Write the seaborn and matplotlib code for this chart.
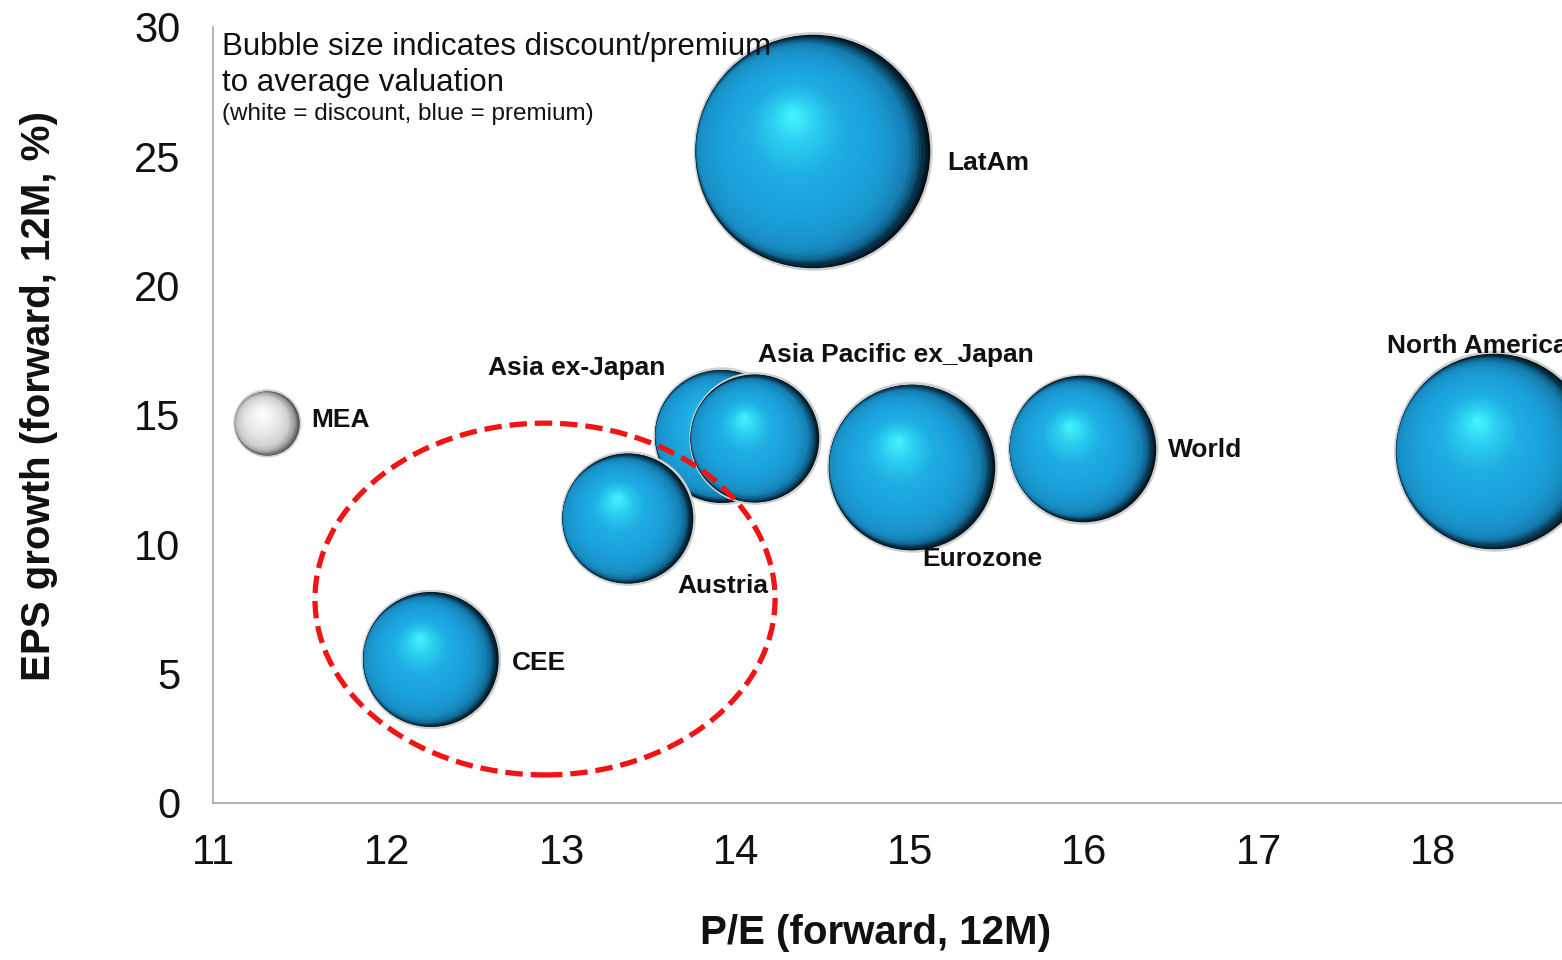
import numpy as np
import pandas as pd
import matplotlib
matplotlib.use("Agg")
import matplotlib.pyplot as plt
from matplotlib.colors import LinearSegmentedColormap
from matplotlib.patches import Ellipse
from matplotlib.transforms import offset_copy
import seaborn as sns

# ---- data -------------------------------------------------------------
regions = ["LatAm", "MEA", "Asia ex-Japan", "Asia Pacific ex_Japan",
           "Eurozone", "World", "North America", "Austria", "CEE"]
pe_forward = [14.44, 11.31, 13.92, 14.11, 15.01, 15.99, 18.35, 13.38, 12.25]
eps_growth = [25.2, 14.7, 14.2, 14.1, 13.0, 13.7, 13.6, 11.0, 5.55]
# discount (<0) / premium (>0) to average valuation, %
valuation_gap = [30.0, -2.3, 9.8, 9.1, 15.2, 11.8, 21.1, 9.4, 10.1]

x_ticks = [11, 12, 13, 14, 15, 16, 17, 18]
y_ticks = [0, 5, 10, 15, 20, 25, 30]

# label offsets from bubble centre (points) and horizontal alignment
label_offsets = {
    "LatAm": (97, -13.4, "left"),
    "MEA": (32, -3.0, "left"),
    "Asia ex-Japan": (-40.7, 43.4, "right"),
    "Asia Pacific ex_Japan": (2.2, 54.6, "left"),
    "Eurozone": (7.6, -71.4, "left"),
    "World": (61.2, -5.9, "left"),
    "North America": (-77, 70.4, "left"),
    "Austria": (36, -53.4, "left"),
    "CEE": (58, -7.7, "left"),
}

# highlighted group (dashed ellipse): centre, width, height in data units
focus_center = (12.905, 7.885)
focus_width, focus_height = 2.64, 13.6

AREA_PER_PCT = 962.0  # marker area (pt^2) per 1% of valuation gap

# ---- styling ----------------------------------------------------------
sns.set_style("white")
plt.rcParams["font.family"] = ["Liberation Sans", "DejaVu Sans"]

df = pd.DataFrame({
    "region": regions,
    "pe": pe_forward,
    "eps": eps_growth,
    "gap": valuation_gap,
})
df["magnitude"] = df["gap"].abs()
df["kind"] = np.where(df["gap"] < 0, "discount", "premium")

fig = plt.figure(figsize=(15.62, 9.6), dpi=100)
ax = fig.add_axes([213 / 1562, 157 / 960, 1349 / 1562, 776 / 960])

mag_lo, mag_hi = df["magnitude"].min(), df["magnitude"].max()
sns.scatterplot(
    data=df, x="pe", y="eps", size="magnitude",
    sizes=(mag_lo * AREA_PER_PCT, mag_hi * AREA_PER_PCT),
    size_norm=(mag_lo, mag_hi),
    hue="kind", palette={"premium": "#0b4f70", "discount": "#6e6e6e"},
    edgecolor="#d8d8d8", linewidth=1.5, legend=False, ax=ax, zorder=3,
)

# sphere shading: stacked discs, the outer ones pushed left (dark crescent
# on the right), the inner ones drifting to an upper-left highlight
blue_shade = LinearSegmentedColormap.from_list("blue_sphere", [
    (0.00, "#020f16"), (0.03, "#06324a"), (0.06, "#0e5f88"),
    (0.10, "#1580b4"), (0.18, "#1993ca"), (0.35, "#1ba1da"),
    (0.60, "#1eaee2"), (0.80, "#2bcdf0"), (0.92, "#3be6fb"),
    (1.00, "#48f3ff"),
])
grey_shade = LinearSegmentedColormap.from_list("grey_sphere", [
    (0.00, "#3c3c3c"), (0.04, "#777777"), (0.10, "#a8a8a8"),
    (0.22, "#cfcfcf"), (0.45, "#e4e4e4"), (0.75, "#f5f5f5"),
    (1.00, "#ffffff"),
])
EDGE_DIR = np.array([-0.85, 0.15])
HIGHLIGHT = np.array([-0.17, 0.32])
T_SPLIT = 0.15
N_LAYERS = 70


def layer_offset(t):
    if t <= T_SPLIT:
        return t * EDGE_DIR
    start = T_SPLIT * EDGE_DIR
    u = (t - T_SPLIT) / (1 - T_SPLIT)
    return start + u * (HIGHLIGHT - start)


for j, row in df.iterrows():
    area = row["magnitude"] * AREA_PER_PCT
    r_pt = np.sqrt(area) / 2.0
    cmap = blue_shade if row["kind"] == "premium" else grey_shade
    z = 3.1 + j * 0.01
    # outer rim
    ax.scatter([row["pe"]], [row["eps"]], s=area, color=cmap(0.0),
               edgecolors="#d0d0d0", linewidths=1.8, zorder=z)
    for i in range(1, N_LAYERS):
        t = i / N_LAYERS
        f = 1.0 - t
        off = layer_offset(t) * r_pt
        tr = offset_copy(ax.transData, fig=fig, x=off[0], y=off[1],
                         units="points")
        ax.scatter([row["pe"]], [row["eps"]], s=(2 * f * r_pt) ** 2,
                   color=cmap(t), linewidths=0, transform=tr, zorder=z)

# region labels
for _, row in df.iterrows():
    dx, dy, ha = label_offsets[row["region"]]
    ax.annotate(row["region"], (row["pe"], row["eps"]), xytext=(dx, dy),
                textcoords="offset points", ha=ha, va="baseline",
                fontsize=19, fontweight="bold", color="#111111", zorder=20)

# dashed ellipse around the CEE / Austria group
ax.add_patch(Ellipse(focus_center, focus_width, focus_height, fill=False,
                     edgecolor="#f01414", linewidth=3.8,
                     linestyle=(0, (3.3, 1.5)), zorder=15))

# note in the upper-left corner
ax.text(0.0067, 0.964, "Bubble size indicates discount/premium",
        transform=ax.transAxes, fontsize=22.5, va="baseline", ha="left",
        color="#111111", zorder=25)
ax.text(0.0067, 0.9175, "to average valuation",
        transform=ax.transAxes, fontsize=22.5, va="baseline", ha="left",
        color="#111111", zorder=25)
ax.text(0.0067, 0.880, "(white = discount, blue = premium)",
        transform=ax.transAxes, fontsize=17.5, va="baseline", ha="left",
        color="#111111", zorder=25)

# axes
ax.set_xlim(11, 18.74)
ax.set_ylim(0, 30)
ax.set_xticks(x_ticks)
ax.set_yticks(y_ticks)
ax.set_xticklabels([str(v) for v in x_ticks])
ax.set_yticklabels([str(v) for v in y_ticks])
sns.despine(ax=ax)
for side in ("left", "bottom"):
    ax.spines[side].set_color("#a6a6a6")
    ax.spines[side].set_linewidth(1.2)
ax.tick_params(axis="both", direction="out", color="#a6a6a6", width=1.2,
               labelsize=30, labelcolor="#111111")
ax.tick_params(axis="y", length=9.4, pad=14)
ax.tick_params(axis="x", length=8.6, pad=13)

ax.set_xlabel("P/E (forward, 12M)", fontsize=29, fontweight="bold",
              color="#111111")
ax.set_ylabel("EPS growth (forward, 12M, %)", fontsize=29, fontweight="bold",
              color="#111111")
ax.xaxis.set_label_coords(0.491, -0.143)
ax.yaxis.set_label_coords(-0.115, 0.524)

fig.savefig("out.png", dpi=100)
